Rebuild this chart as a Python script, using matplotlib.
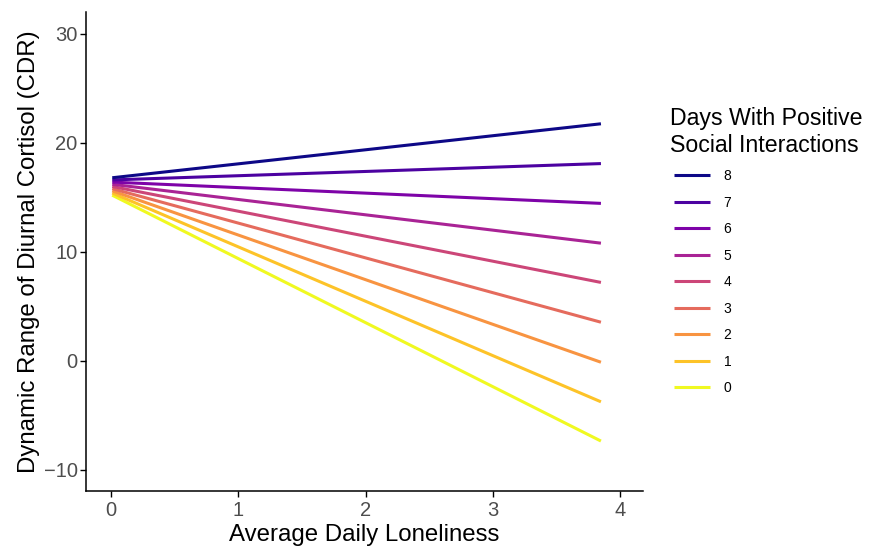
import matplotlib
matplotlib.use("Agg")
import matplotlib.pyplot as plt

plt.rcParams['font.family'] = ['Liberation Sans', 'DejaVu Sans']

# days with positive social interactions, 0..8
days = [0, 1, 2, 3, 4, 5, 6, 7, 8]
x_start, x_end = 0.01, 3.85
y_start = [15.2, 15.4, 15.6, 15.8, 16.0, 16.2, 16.4, 16.6, 16.8]
y_end = [-7.35, -3.75, -0.12, 3.55, 7.2, 10.8, 14.45, 18.1, 21.75]
colors = ["#F0F921", "#FDC328", "#F89441", "#E56B5D", "#CC4678",
          "#A92395", "#7E03A8", "#4C02A1", "#0D0887"]

fig = plt.figure(figsize=(8.7, 5.47), dpi=100)
ax = fig.add_axes([0.0989, 0.1024, 0.6401, 0.8756])

for d, y0, y1, c in zip(days, y_start, y_end, colors):
    ax.plot([x_start, x_end], [y0, y1], color=c, lw=2.2, label=str(d),
            solid_capstyle='butt')

ax.set_xlim(-0.196, 4.18)
ax.set_ylim(-11.93, 32.0)
ax.set_xticks([0, 1, 2, 3, 4])
ax.set_yticks([-10, 0, 10, 20, 30])
for s in ['top', 'right']:
    ax.spines[s].set_visible(False)
for s in ['left', 'bottom']:
    ax.spines[s].set_linewidth(1.1)
ax.tick_params(axis='both', length=4, width=1.0, labelsize=14.5,
               labelcolor='#4D4D4D', pad=2)
ax.tick_params(axis='x', pad=3)
ax.set_xlabel('Average Daily Loneliness', fontsize=17.3, labelpad=3)
ax.set_ylabel('Dynamic Range of Diurnal Cortisol (CDR)', fontsize=17.3, labelpad=3)

handles, labels = ax.get_legend_handles_labels()
leg = ax.legend(handles[::-1], labels[::-1], loc='upper left',
                bbox_to_anchor=(0.768, 0.8145), bbox_transform=fig.transFigure,
                frameon=False, fontsize=10, title='Days With Positive\nSocial Interactions',
                title_fontsize=16.7, handlelength=2.6, labelspacing=0.9,
                handletextpad=1.0, borderaxespad=0)
leg._legend_box.align = 'left'
leg.get_title().set_position((-4, 0))

fig.savefig('out.png', dpi=100)
